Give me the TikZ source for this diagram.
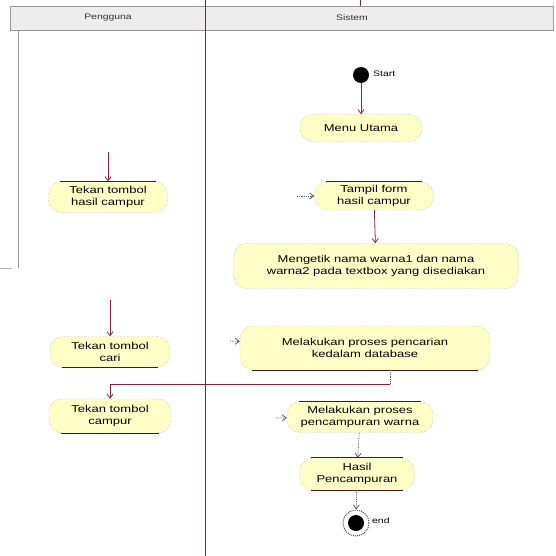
\documentclass[tikz,border=0pt]{standalone}
\usepackage{fontspec}
\setmainfont{Liberation Sans}
\newfontfamily\actfont[FakeStretch=1.3]{Liberation Sans}
\usetikzlibrary{arrows.meta,calc}
\definecolor{lane}{HTML}{85203F}
\definecolor{actfill}{HTML}{FFFFC8}
\definecolor{headfill}{HTML}{EDEDED}
\begin{document}
\begin{tikzpicture}[x=1pt,y=-1pt,
  activity/.style={rectangle, rounded corners=13pt, fill=actfill, draw=gray!80,
    densely dotted, align=center, inner sep=1pt,
    font=\actfont\fontsize{10}{12.5}\selectfont},
  flow/.style={draw=lane, line width=0.8pt, -{Straight Barb[length=4pt,width=6pt]}},
  faint/.style={draw=gray!70!black, densely dotted, line width=0.8pt,
    -{Straight Barb[length=4pt,width=6pt]}},
  rim/.style={draw=lane!60!black, line width=0.9pt},
  lanetitle/.style={font=\actfont\fontsize{8}{9}\selectfont, text=black!80},
  small/.style={font=\actfont\fontsize{8}{9}\selectfont, anchor=west, inner sep=1pt}
]
\useasboundingbox (0,0) rectangle (556,556);
\fill[white] (0,0) rectangle (556,556);

% swimlane header and borders
\draw[fill=headfill, draw=gray!80] (10,6) rectangle (553,30);
\node[lanetitle] (laneU) at (108,18) {Pengguna};
\node[lanetitle] (laneS) at (352,18) {Sistem};
\draw[gray!80, line width=1pt] (18,30) -- (18,268);
\draw[gray!60, line width=0.8pt] (0,268) -- (12,268);
\draw[lane, line width=1pt] (205,0) -- (205,556);
\draw[lane, line width=0.8pt] (360,0) -- (360,6);

% initial and final states
\node[circle, fill=black, minimum size=16pt, inner sep=0pt] (start) at (361,75) {};
\node[small] (startlbl) at (372,74) {Start};
\node[circle, fill=black, minimum size=16pt, inner sep=0pt] (end) at (356,523) {};
\node[circle, draw=black!70, densely dotted, line width=1pt, minimum size=26pt,
  inner sep=0pt] (endring) at (356,523) {};
\node[small] (endlbl) at (371,521) {end};

% activities
\node[activity, minimum width=122pt, minimum height=27pt] (menu) at (361,128) {Menu Utama};
\node[activity, minimum width=119pt, minimum height=31pt] (hasilcampur) at (108,197)
  {Tekan tombol\\hasil campur};
\node[activity, minimum width=119pt, minimum height=28pt] (tampil) at (374,196)
  {Tampil form\\hasil campur};
\node[activity, minimum width=285pt, minimum height=45pt] (mengetik) at (376,266)
  {Mengetik nama warna1 dan nama\\warna2 pada textbox yang disediakan};
\node[activity, minimum width=120pt, minimum height=31pt] (cari) at (110,352)
  {Tekan tombol\\cari};
\node[activity, minimum width=250pt, minimum height=44pt] (pencarian) at (365,348)
  {Melakukan proses pencarian\\kedalam database};
\node[activity, minimum width=122pt, minimum height=34pt] (campur) at (110,416)
  {Tekan tombol\\campur};
\node[activity, minimum width=146pt, minimum height=31pt] (pencampuran) at (360,417)
  {Melakukan proses\\pencampuran warna};
\node[activity, minimum width=115pt, minimum height=32pt] (hasil) at (357,474)
  {Hasil\\Pencampuran};

% solid rims along activity edges
\draw[rim] ($(hasilcampur.north west)+(12,0)$) -- ($(hasilcampur.north east)+(-12,0)$);
\draw[rim] ($(tampil.north west)+(12,0)$) -- ($(tampil.north east)+(-12,0)$);
\draw[rim] ($(cari.south west)+(12,0)$) -- ($(cari.south east)+(-12,0)$);
\draw[rim] ($(pencarian.south west)+(12,0)$) -- ($(pencarian.south east)+(-12,0)$);
\draw[rim] ($(campur.south west)+(12,0)$) -- ($(campur.south east)+(-12,0)$);
\draw[rim] ($(pencampuran.north west)+(12,0)$) -- ($(pencampuran.north east)+(-12,0)$);
\draw[rim] ($(hasil.north west)+(12,0)$) -- ($(hasil.north east)+(-12,0)$);
\draw[rim] ($(hasil.south west)+(12,0)$) -- ($(hasil.south east)+(-12,0)$);

% flows
\coordinate (inA) at (108,152);
\coordinate (inB) at (297,196);
\coordinate (inC) at (110,300);
\coordinate (inD) at (230,341);
\coordinate (inE) at (276,418);
\coordinate (bendR) at (390,384);
\coordinate (bendL) at (110,384);

\draw[flow] (start) -- (menu);
\draw[flow] (inA) -- (hasilcampur);
\draw[faint] (inB) -- (tampil);
\draw[flow] (tampil) -- (mengetik);
\draw[flow] (inC) -- (cari);
\draw[faint] (inD) -- (pencarian);
\draw[draw=gray!70!black, densely dotted, line width=0.8pt] (pencarian.south -| bendR) -- (bendR);
\draw[flow] (bendR) -- (bendL) -- (campur);
\draw[faint] (inE) -- (pencampuran);
\draw[faint] (pencampuran) -- (hasil);
\draw[faint] (hasil) -- (endring);
\end{tikzpicture}
\end{document}
